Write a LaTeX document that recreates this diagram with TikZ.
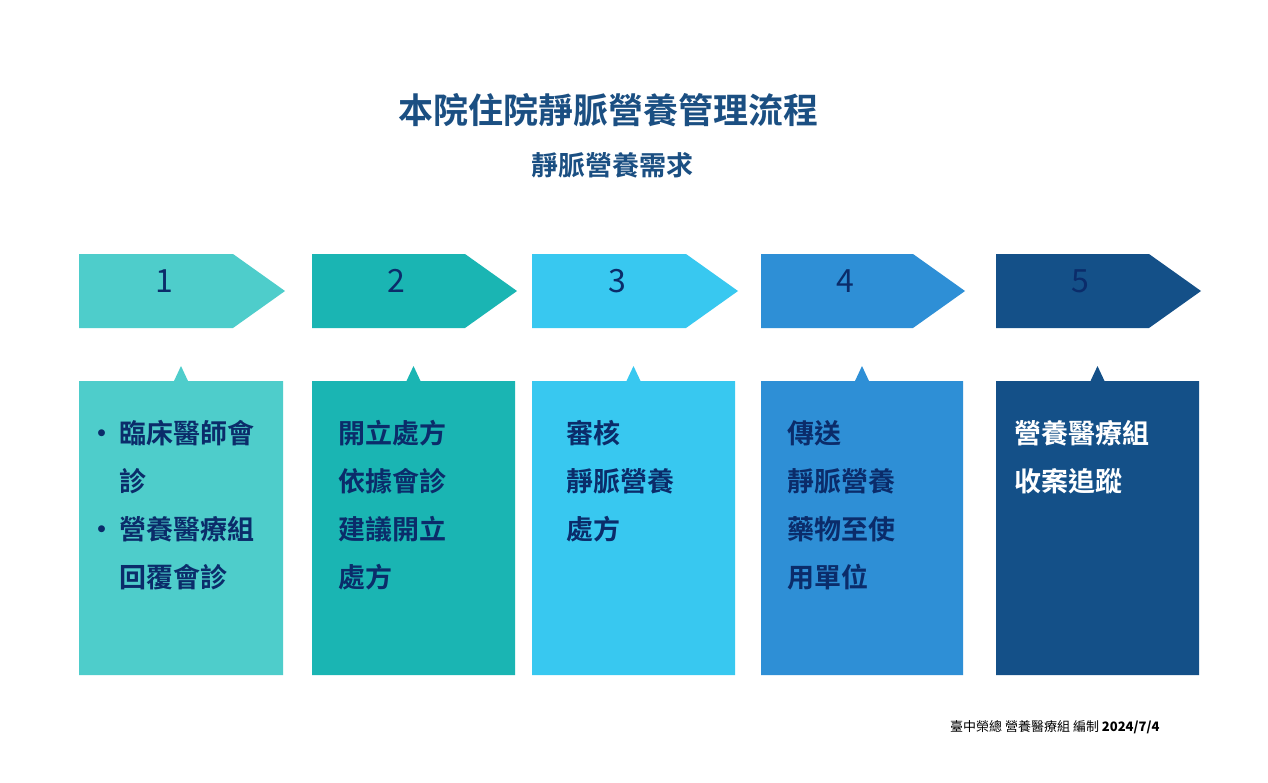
\documentclass[tikz,border=0pt]{standalone}
\usepackage{fontspec}
\newfontfamily\cjk{Noto Sans CJK TC}
\newfontfamily\cjkb{Noto Sans CJK TC Bold}
\usetikzlibrary{positioning}
\definecolor{cA}{HTML}{4ECDCB}
\definecolor{cB}{HTML}{1AB5B3}
\definecolor{cC}{HTML}{38C8F0}
\definecolor{cD}{HTML}{2E8FD6}
\definecolor{cE}{HTML}{145088}
\definecolor{navy}{HTML}{0B2C6A}
\definecolor{ttl}{HTML}{1B4F82}
\tikzset{
  num/.style={text=navy,font=\fontsize{32}{32}\selectfont\cjk},
  txt/.style={anchor=north west,align=left,text=navy,inner sep=0pt,font=\fontsize{27}{48}\selectfont\cjkb},
}
\newcommand{\stage}[5]{% x1, x2 (box), arrow right, colour, number
  \fill[#4] (#1,254) -- ({#3-52},254) -- (#3,291) -- ({#3-52},328) -- (#1,328) -- cycle;
  \node[num] (n#5) at ({(#1+#3-52)/2+8},281) {#5};
  \fill[#4] (#1,381) -- ({(#1+#2)/2-7},381) -- ({(#1+#2)/2},366) -- ({(#1+#2)/2+7},381) -- (#2,381) -- (#2,675) -- (#1,675) -- cycle;
}
\begin{document}
\begin{tikzpicture}[x=1pt,y=-1pt]
\useasboundingbox (0,0) rectangle (1268,782);
\fill[white] (0,0) rectangle (1268,782);
\node[text=ttl,font=\fontsize{35}{35}\selectfont\cjkb] (title) at (608,110) {本院住院靜脈營養管理流程};
\node[text=ttl,font=\fontsize{27}{27}\selectfont\cjkb] (sub) at (612,165) {靜脈營養需求};
\stage{79}{283}{285}{cA}{1}
\stage{312}{515}{517}{cB}{2}
\stage{532}{735}{738}{cC}{3}
\stage{761}{963}{965}{cD}{4}
\stage{996}{1199}{1201}{cE}{5}
\node[txt] (t1) at (88,420) {•\,臨床醫師會\\\phantom{•\,}診\\•\,營養醫療組\\\phantom{•\,}回覆會診};
\node[txt] (t2) at (338,420) {開立處方\\依據會診\\建議開立\\處方};
\node[txt] (t3) at (566,420) {審核\\靜脈營養\\處方};
\node[txt] (t4) at (787,420) {傳送\\靜脈營養\\藥物至使\\用單位};
\node[txt,text=white] (t5) at (1014,420) {營養醫療組\\收案追蹤};
\node[anchor=east,font=\fontsize{13}{13}\selectfont\cjk] (foot) at (1163,727) {臺中榮總 營養醫療組 編制 \textbf{2024/7/4}};
\end{tikzpicture}
\end{document}
